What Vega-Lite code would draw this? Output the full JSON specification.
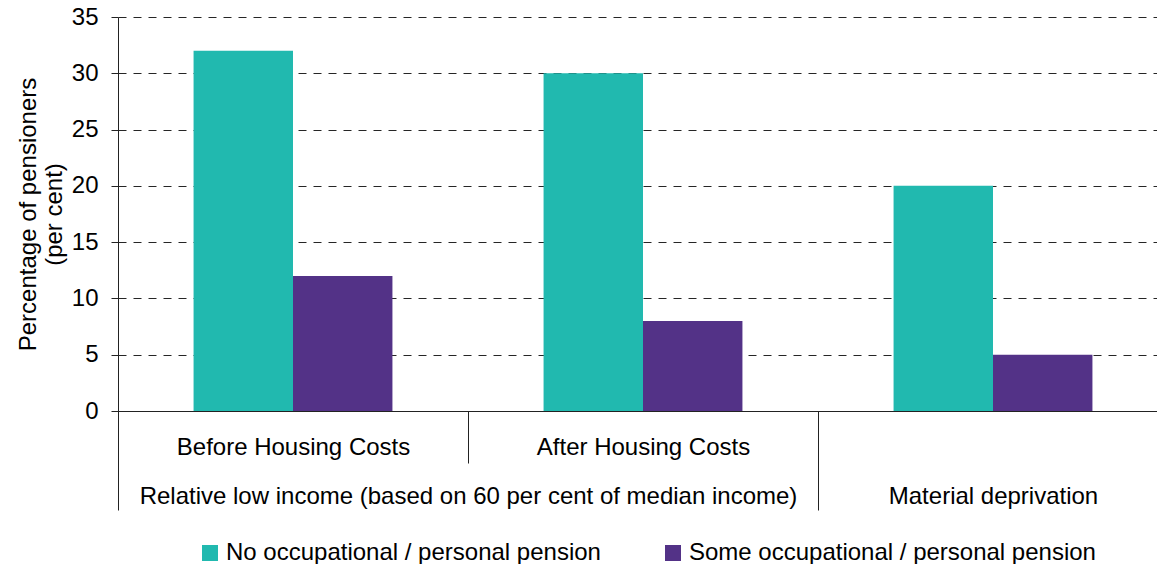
{
  "$schema": "https://vega.github.io/schema/vega-lite/v6.json",
  "width": 1039,
  "height": 394,
  "autosize": {"type": "none"},
  "padding": {"left": 118, "top": 17, "right": 0, "bottom": 153},
  "background": "white",
  "config": {
    "view": {"stroke": null},
    "font": "Liberation Sans",
    "axis": {
      "domainColor": "#222222",
      "tickColor": "#222222",
      "labelColor": "#000000",
      "labelFontSize": 24,
      "titleFontSize": 24,
      "titleFontWeight": "normal",
      "titleColor": "#000000",
      "labelFont": "Liberation Sans",
      "titleFont": "Liberation Sans",
      "labelLimit": 0
    },
    "legend": {"labelFont": "Liberation Sans", "labelFontSize": 24, "labelColor": "#000000", "labelLimit": 0, "padding": 0}
  },
  "layer": [
    {
      "data": {
        "values": [
          {"category": "Before Housing Costs", "pension": "No occupational / personal pension", "percent": 32},
          {"category": "Before Housing Costs", "pension": "Some occupational / personal pension", "percent": 12},
          {"category": "After Housing Costs", "pension": "No occupational / personal pension", "percent": 30},
          {"category": "After Housing Costs", "pension": "Some occupational / personal pension", "percent": 8},
          {"category": "Material deprivation", "pension": "No occupational / personal pension", "percent": 20},
          {"category": "Material deprivation", "pension": "Some occupational / personal pension", "percent": 5}
        ]
      },
      "mark": {"type": "bar"},
      "encoding": {
        "x": {
          "field": "category",
          "type": "nominal",
          "sort": ["Before Housing Costs", "After Housing Costs", "Material deprivation"],
          "scale": {"range": [0, 1050], "paddingInner": 0, "paddingOuter": 0},
          "axis": {
            "title": null,
            "orient": "bottom",
            "labelAngle": 0,
            "labelExpr": "datum.value == 'Material deprivation' ? '' : datum.value",
            "tickBand": "extent",
            "tickSize": 52,
            "labelBaseline": "alphabetic",
            "labelPadding": -9,
            "labelOverlap": false,
            "grid": false,
            "domain": true
          }
        },
        "xOffset": {
          "field": "pension",
          "type": "nominal",
          "sort": ["No occupational / personal pension", "Some occupational / personal pension"],
          "scale": {"paddingInner": 0, "paddingOuter": 0.76}
        },
        "y": {
          "field": "percent",
          "type": "quantitative",
          "scale": {"domain": [0, 35], "nice": false},
          "axis": {
            "title": ["Percentage of pensioners", "(per cent)"],
            "titleLineHeight": 26,
            "titlePadding": 5,
            "values": [0, 5, 10, 15, 20, 25, 30, 35],
            "tickSize": 7,
            "labelPadding": 13,
            "grid": true,
            "gridColor": "#000000",
            "gridDash": [8, 7],
            "gridOpacity": 0.85
          }
        },
        "color": {
          "field": "pension",
          "type": "nominal",
          "sort": ["No occupational / personal pension", "Some occupational / personal pension"],
          "scale": {"range": ["#21B9AF", "#533287"]},
          "legend": {
            "title": null,
            "orient": "none",
            "direction": "horizontal",
            "legendX": 80,
            "legendY": 524,
            "symbolType": "square",
            "symbolSize": 256,
            "symbolStrokeWidth": 0,
            "symbolOpacity": 1,
            "labelOffset": 4,
            "columnPadding": 60
          }
        }
      }
    },
    {
      "data": {
        "values": [
          {"pos": 1, "measure": "Relative low income (based on 60 per cent of median income)"},
          {"pos": 2.5, "measure": "Material deprivation"}
        ]
      },
      "mark": {"type": "text", "opacity": 0},
      "encoding": {
        "x": {
          "field": "pos",
          "type": "quantitative",
          "scale": {"domain": [0, 3], "range": [0, 1050], "nice": false, "zero": false},
          "axis": {
            "title": null,
            "orient": "bottom",
            "values": [0, 1, 2, 2.5],
            "labelExpr": "datum.value == 1 ? 'Relative low income (based on 60 per cent of median income)' : (datum.value == 2.5 ? 'Material deprivation' : '')",
            "tickSize": 99,
            "tickOpacity": {"condition": {"test": "datum.value == 0 || datum.value == 2", "value": 1}, "value": 0},
            "labelBaseline": "alphabetic",
            "labelPadding": -7,
            "labelOverlap": false,
            "labelFlush": false,
            "labelBound": false,
            "domain": false,
            "grid": false
          }
        },
        "text": {"field": "measure"}
      }
    }
  ],
  "resolve": {"scale": {"x": "independent"}, "axis": {"x": "independent"}}
}
